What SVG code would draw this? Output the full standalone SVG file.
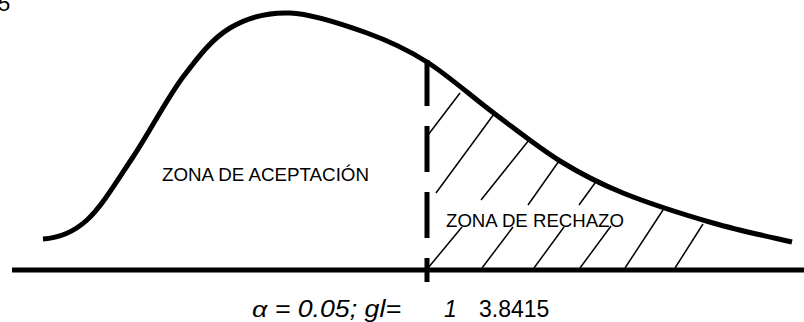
<svg xmlns="http://www.w3.org/2000/svg" width="804" height="322" viewBox="0 0 804 322">
<style>
.lbl{font-family:"Liberation Sans",Arial,sans-serif;fill:#000}
.thick{fill:none;stroke:#000;stroke-width:5}
.hatch{fill:none;stroke:#000;stroke-width:1.5}
</style>
<rect width="804" height="322" fill="#fff"/>
<text class="lbl" x="-2" y="11" font-size="22">5</text>
<g id="curve">
<path class="thick" d="M43,239 C58,238 72,233.7 87,220 C102,206.3 117,180.8 133,157 C149,133.2 166.8,98.5 183,77 C199.2,55.5 212.2,38.7 230,28 C247.8,17.3 267.2,12.2 290,13 C312.8,13.8 344.2,24.8 367,33 C389.8,41.2 405.7,48.5 427,62 C448.3,75.5 472.8,97.5 495,114 C517.2,130.5 538.7,147.8 560,161 C581.3,174.2 597.5,182.7 623,193 C648.5,203.3 684.8,214.8 713,223 C741.2,231.2 778.8,238.8 792,242"/>
</g>
<g id="axis">
<line class="thick" x1="12" y1="270" x2="804" y2="270"/>
</g>
<g id="critical-line">
<line x1="427" y1="60" x2="427" y2="282" stroke="#000" stroke-width="5" stroke-dasharray="46 20"/>
</g>
<g id="hatching">
<line class="hatch" x1="460" y1="93" x2="428" y2="135"/>
<line class="hatch" x1="494" y1="114" x2="436" y2="193"/>
<line class="hatch" x1="529" y1="140" x2="481" y2="200"/>
<line class="hatch" x1="559" y1="161" x2="528" y2="205"/>
<line class="hatch" x1="595" y1="183" x2="579" y2="205"/>
<line class="hatch" x1="462" y1="227" x2="428" y2="268"/>
<line class="hatch" x1="513" y1="227" x2="482" y2="268"/>
<line class="hatch" x1="564" y1="227" x2="534" y2="268"/>
<line class="hatch" x1="611" y1="226" x2="580" y2="268"/>
<line class="hatch" x1="663" y1="210" x2="625" y2="268"/>
<line class="hatch" x1="703" y1="224" x2="675" y2="268"/>
</g>
<g id="zona-aceptacion">
<text class="lbl" x="162" y="181" font-size="18" textLength="207" lengthAdjust="spacingAndGlyphs">ZONA DE ACEPTACIÓN</text>
</g>
<g id="zona-rechazo">
<text class="lbl" x="446" y="227" font-size="18" textLength="178" lengthAdjust="spacingAndGlyphs">ZONA DE RECHAZO</text>
</g>
<g id="params">
<text class="lbl" x="252" y="317" font-size="23" font-style="italic" textLength="149" lengthAdjust="spacingAndGlyphs">α = 0.05; gl=</text>
<text class="lbl" x="444" y="317" font-size="23" font-style="italic">1</text>
<text class="lbl" x="479" y="317" font-size="23">3.8415</text>
</g>
</svg>
